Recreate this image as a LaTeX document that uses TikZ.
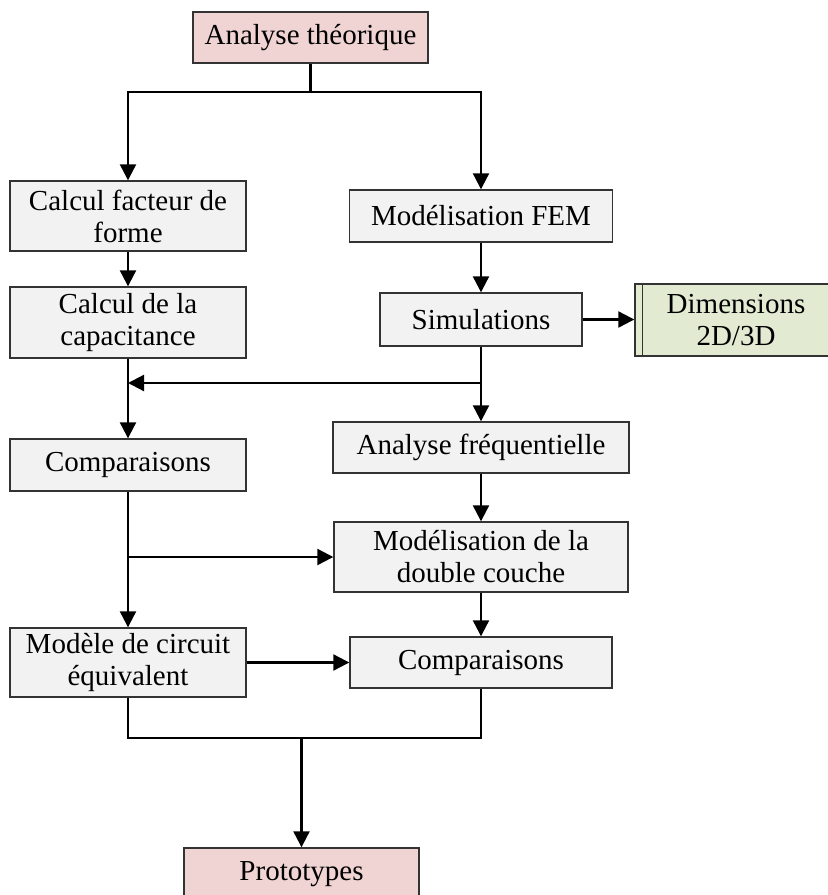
\documentclass[tikz,border=0pt]{standalone}
\usepackage{fontspec}
\setmainfont{Liberation Serif}
\usetikzlibrary{arrows.meta,positioning,calc}
\definecolor{gbg}{HTML}{F2F2F2}
\definecolor{pbg}{HTML}{F0D4D3}
\definecolor{vbg}{HTML}{E2EAD1}

\begin{document}
\begin{tikzpicture}[x=0.5pt,y=-0.5pt,>={Triangle[length=8pt,width=8pt]},
  font=\fontsize{14.5}{16}\selectfont,
  blk/.style={draw=black!80,line width=0.7pt,fill=gbg,align=center,inner sep=2pt},
  pblk/.style={blk,fill=pbg},
  vblk/.style={blk,fill=vbg},
  m/.style={->,line width=1.1pt},
  ln/.style={line width=1.1pt}]
  \useasboundingbox (0,0) rectangle (828,895);

  % start and end (pink)
  \node[pblk,minimum width=117.5pt,minimum height=25.5pt] (theo) at (310.5,37.5) {Analyse théorique};
  \node[pblk,minimum width=117.5pt,minimum height=26pt] (proto) at (301.5,874) {Prototypes};

  % left column: x = 128
  \node[blk,minimum width=118pt,minimum height=35pt] (facteur) at (128,216) {Calcul facteur de\\forme};
  \node[blk,minimum width=118pt,minimum height=35.5pt] (capa) at (128,322.5) {Calcul de la\\capacitance};
  \node[blk,minimum width=118pt,minimum height=26pt] (cmpg) at (128,465) {Comparaisons};
  \node[blk,minimum width=118pt,minimum height=34.5pt] (modele) at (128,662.5) {Modèle de circuit\\équivalent};

  % right column: x = 481
  \node[blk,minimum width=131.5pt,minimum height=26pt] (fem) at (481,216) {Modélisation FEM};
  \node[blk,minimum width=101pt,minimum height=26.5pt] (simu) at (481,319.5) {Simulations};
  \node[blk,minimum width=148pt,minimum height=25.5pt] (freq) at (481,447.5) {Analyse fréquentielle};
  \node[blk,minimum width=147pt,minimum height=35pt] (dbl) at (481,557) {Modélisation de la\\double couche};
  \node[blk,minimum width=131pt,minimum height=25.5pt] (cmpd) at (481,662.5) {Comparaisons};

  % side output (cut by the page edge)
  \node[vblk,minimum width=101pt,minimum height=36pt] (dim) at (736,320) {Dimensions\\2D/3D};
  \draw[black!80,line width=0.7pt] ([xshift=4pt]dim.north west) -- ([xshift=4pt]dim.south west);

  % ---- connectors ----
  \coordinate (top) at (310.5,92);
  \draw[ln] (theo) -- (top);
  \draw[m] (top) -| (facteur);
  \draw[m] (top) -| (fem);
  \draw[m] (facteur) -- (capa);
  \draw[m] (fem) -- (simu);
  \draw[m] (simu) -- (simu -| dim.west);

  \coordinate (jr) at (481,383);
  \coordinate (jl) at (128,383);
  \draw[ln] (simu) -- (jr);
  \draw[m] (jr) -- (freq);
  \draw[m] (jr) -- (jl);
  \draw[m] (capa) -- (cmpg);

  \draw[m] (freq) -- (dbl);
  \coordinate (jm) at (128,557);
  \draw[m] (cmpg) -- (modele);
  \draw[m] (jm) -- (dbl);
  \draw[m] (dbl) -- (cmpd);
  \draw[m] (modele) -- (cmpd);

  % join towards the prototypes
  \coordinate (bl) at (128,738);
  \coordinate (br) at (481,738);
  \coordinate (bm) at (301.5,738);
  \draw[ln] (modele) -- (bl) -- (br) -- (cmpd);
  \draw[m] (bm) -- (proto);
\end{tikzpicture}
\end{document}
